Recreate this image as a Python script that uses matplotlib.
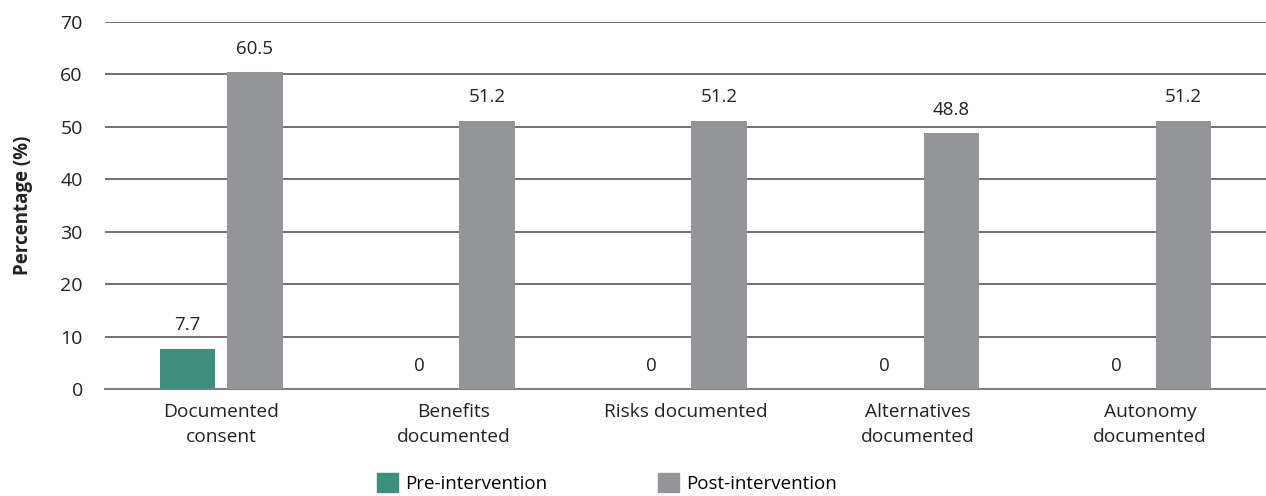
import matplotlib.pyplot as plt
import numpy as np
from matplotlib.patches import Patch

plt.rcParams['font.family'] = ['Open Sans', 'DejaVu Sans']

categories = ['Documented\nconsent', 'Benefits\ndocumented', 'Risks documented',
              'Alternatives\ndocumented', 'Autonomy\ndocumented']
pre = [7.7, 0, 0, 0, 0]
post = [60.5, 51.2, 51.2, 48.8, 51.2]
pre_labels = ['7.7', '0', '0', '0', '0']
post_labels = ['60.5', '51.2', '51.2', '48.8', '51.2']

green = '#3e8e7e'
grey = '#939598'

fig = plt.figure(figsize=(12.66, 4.96), dpi=100)
ax = fig.add_axes([105/1266, 1-389/496, 1161/1266, 367/496])

x = np.arange(len(categories))
w = 0.24
off = 0.145
ax.bar(x - off, pre, w, color=green, zorder=3)
ax.bar(x + off, post, w, color=grey, zorder=3)

for i in range(len(x)):
    ax.text(x[i] - off, pre[i] + 2.7, pre_labels[i], ha='center', va='bottom', fontsize=13.5, color='#222')
    ax.text(x[i] + off, post[i] + 2.7, post_labels[i], ha='center', va='bottom', fontsize=13.5, color='#222')

ax.set_xlim(-0.5, len(x) - 0.5)
ax.set_ylim(0, 70)
ax.set_yticks(range(0, 71, 10))
ax.yaxis.grid(True, color='#4a4a4a', linewidth=1.1, zorder=0)
for s in ['top', 'right', 'left']:
    ax.spines[s].set_visible(False)
ax.spines['bottom'].set_color('#808080')
ax.spines['bottom'].set_linewidth(1.5)
ax.tick_params(axis='y', length=0, labelsize=14, pad=16, colors='#222')
ax.tick_params(axis='x', length=0, labelsize=13.8, pad=10, colors='#222')
ax.set_xticks(x)
ax.set_xticklabels(categories, linespacing=1.5)
ax.set_ylabel('Percentage (%)', fontsize=13.5, fontweight='bold', color='#222')
ax.yaxis.set_label_coords(-0.062, 0.5)

handles = [Patch(color=green, label='Pre-intervention'), Patch(color=grey, label='Post-intervention')]
fig.legend(handles=handles, loc='center', bbox_to_anchor=(607/1266, 1-483/496), ncol=2,
           frameon=False, fontsize=13.5, handlelength=1.12, handleheight=1.12,
           handletextpad=0.37, columnspacing=5.9)

fig.savefig('out.png', dpi=100)
